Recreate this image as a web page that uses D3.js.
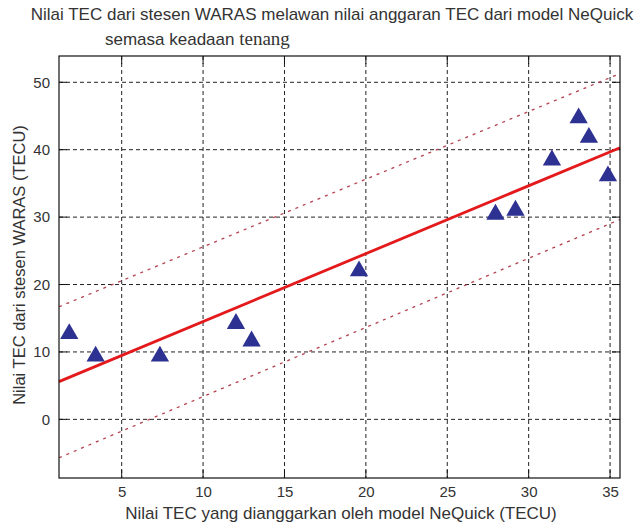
<!DOCTYPE html>
<html>
<head>
<meta charset="utf-8">
<script src="https://cdn.jsdelivr.net/npm/d3@7"></script>
<style>
body { margin: 0; background: #fff; }
text { font-family: "Liberation Sans", Arial, sans-serif; fill: #333; }
</style>
</head>
<body>
<svg width="636" height="527"></svg>
<script>
// data points (NeQuick vs WARAS)
var modelTEC = [1.78, 3.4, 7.35, 12.02, 12.98, 19.58, 27.96, 29.19, 31.43, 33.07, 33.7, 34.87];
var warasTEC = [12.7, 9.35, 9.35, 14.2, 11.6, 22.0, 30.4, 31.0, 38.45, 44.7, 41.8, 36.1];

// fit line and bounds (x at left/right, y at left/right)
var lineX = [1.15, 35.61];
var fitY = [5.6, 40.3];
var upperY = [16.7, 51.3];
var lowerY = [-5.7, 29.65];

var xTicks = [5, 10, 15, 20, 25, 30, 35];
var yTicks = [0, 10, 20, 30, 40, 50];

var margin = {top: 56, right: 16, bottom: 49, left: 59};
var width = 636 - margin.left - margin.right;
var height = 527 - margin.top - margin.bottom;

var svg = d3.select('svg');
var g = svg.append('g')
    .attr('transform', 'translate(' + margin.left + ',' + margin.top + ')');

var xScale = d3.scaleLinear().domain([1.15, 35.61]).range([0, width]);
var yScale = d3.scaleLinear().domain([-8.7, 53.9]).range([height, 0]);

// grid
g.selectAll('.vgrid').data(xTicks).enter().append('line')
    .attr('x1', d => xScale(d)).attr('x2', d => xScale(d))
    .attr('y1', 0).attr('y2', height)
    .attr('stroke', '#222').attr('stroke-dasharray', '4,3');
g.selectAll('.hgrid').data(yTicks).enter().append('line')
    .attr('y1', d => yScale(d)).attr('y2', d => yScale(d))
    .attr('x1', 0).attr('x2', width)
    .attr('stroke', '#222').attr('stroke-dasharray', '4,3');

// axes
var xAxis = d3.axisBottom(xScale).tickValues(xTicks).tickSize(0).tickPadding(8);
g.append('g').attr('transform', 'translate(0,' + height + ')').call(xAxis)
    .call(a => a.select('.domain').remove())
    .selectAll('text').style('font-size', '15px').attr('fill', '#333');
var yAxis = d3.axisLeft(yScale).tickValues(yTicks).tickSize(0).tickPadding(9);
g.append('g').call(yAxis)
    .call(a => a.select('.domain').remove())
    .selectAll('text').style('font-size', '15px').attr('fill', '#333');

// inner ticks
var tl = 8;
xTicks.forEach(function(t) {
    g.append('line').attr('x1', xScale(t)).attr('x2', xScale(t)).attr('y1', height).attr('y2', height - tl).attr('stroke', '#111');
    g.append('line').attr('x1', xScale(t)).attr('x2', xScale(t)).attr('y1', 0).attr('y2', tl).attr('stroke', '#111');
});
yTicks.forEach(function(t) {
    g.append('line').attr('y1', yScale(t)).attr('y2', yScale(t)).attr('x1', 0).attr('x2', tl).attr('stroke', '#111');
    g.append('line').attr('y1', yScale(t)).attr('y2', yScale(t)).attr('x1', width).attr('x2', width - tl).attr('stroke', '#111');
});

// bounds
[upperY, lowerY].forEach(function(b) {
    g.append('line')
        .attr('x1', xScale(lineX[0])).attr('y1', yScale(b[0]))
        .attr('x2', xScale(lineX[1])).attr('y2', yScale(b[1]))
        .attr('stroke', '#b5404f').attr('stroke-width', 1.3)
        .attr('stroke-dasharray', '3,5');
});

// fit
g.append('line')
    .attr('x1', xScale(lineX[0])).attr('y1', yScale(fitY[0]))
    .attr('x2', xScale(lineX[1])).attr('y2', yScale(fitY[1]))
    .attr('stroke', '#e3191c').attr('stroke-width', 2.8);

// points
var tri = d3.symbol().type(d3.symbolTriangle).size(145);
g.selectAll('.pt').data(modelTEC).enter().append('path')
    .attr('d', tri)
    .attr('transform', (d, i) => 'translate(' + xScale(d) + ',' + yScale(warasTEC[i]) + ')')
    .attr('fill', '#2d3192');

// frame
g.append('rect').attr('width', width).attr('height', height)
    .attr('fill', 'none').attr('stroke', '#111').attr('stroke-width', 1.2);

// titles
svg.append('text').attr('x', 332).attr('y', 20).attr('text-anchor', 'middle')
    .style('font-size', '17px').attr('fill', '#222')
    .text('Nilai TEC dari stesen WARAS melawan nilai anggaran TEC dari model NeQuick');
var t2 = svg.append('text').attr('x', 105).attr('y', 45)
    .style('font-size', '17px').attr('fill', '#222');
t2.append('tspan').text('semasa keadaan ');
t2.append('tspan').style('font-family', '"Liberation Serif", "Times New Roman", serif')
    .style('font-size', '19px').text('tenang');

svg.append('text').attr('x', 341).attr('y', 519).attr('text-anchor', 'middle')
    .style('font-size', '17px').attr('fill', '#222')
    .text('Nilai TEC yang dianggarkan oleh model NeQuick (TECU)');
svg.append('text').attr('transform', 'translate(25,265) rotate(-90)').attr('text-anchor', 'middle')
    .style('font-size', '16.5px').attr('fill', '#222')
    .text('Nilai TEC dari stesen WARAS (TECU)');
</script>
</body>
</html>
